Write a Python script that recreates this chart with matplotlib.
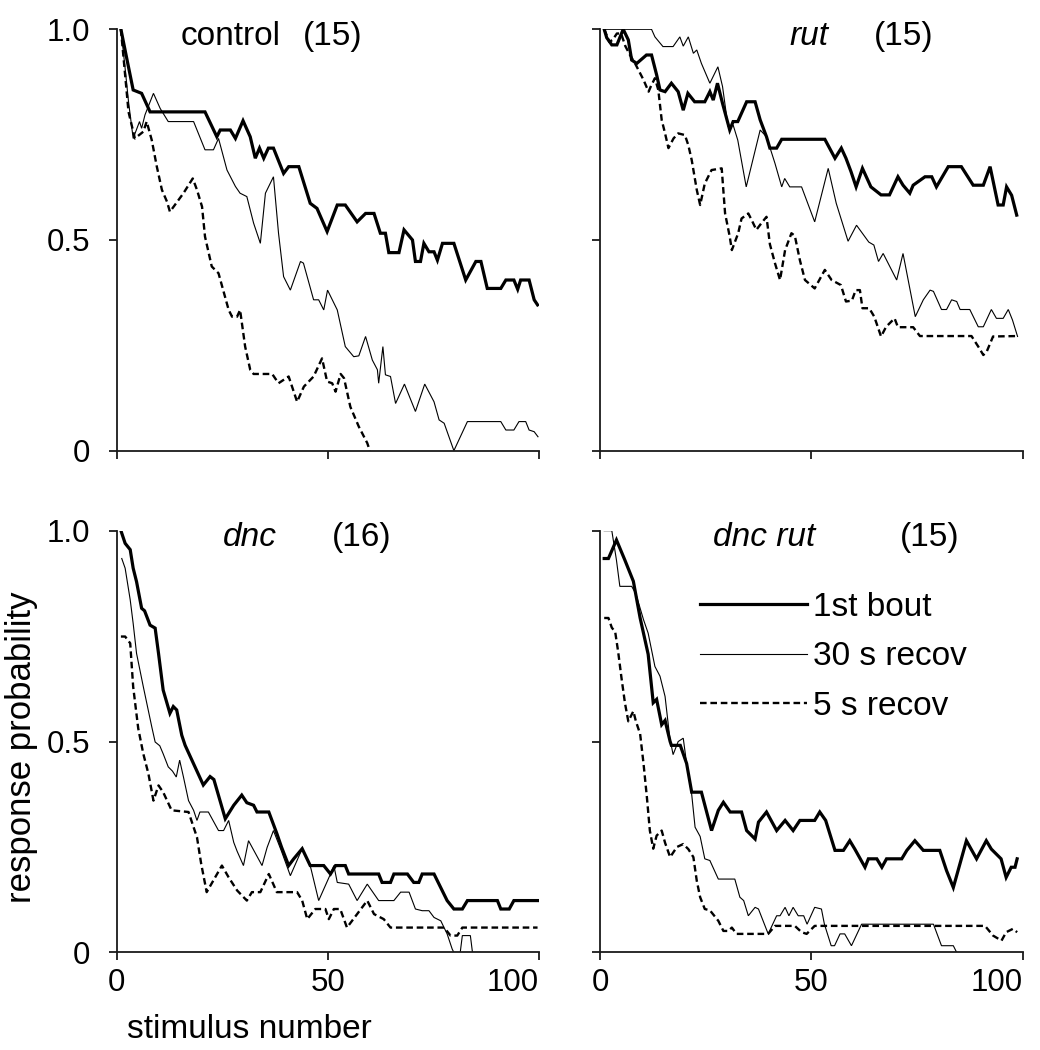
import matplotlib.pyplot as plt

plt.rcParams['font.family'] = ['Liberation Sans', 'DejaVu Sans']
plt.rcParams['font.size'] = 22

# ---- data (stimulus number, response probability) ----
# control (15)
ctrl_first_x = [1, 2.4, 3.9, 5.9, 7.9, 20.9, 23.7, 24.5, 26.9, 28.1, 29.9, 31.6, 32.8, 33.8, 34.8, 35.9,
                37.1, 39.5, 40.7, 43.1, 45.8, 47.4, 49.8, 52.2, 54.1, 56.9, 58.9, 60.9, 62.4, 63.6, 64.4,
                66.8, 68.0, 70.0, 70.7, 71.9, 72.7, 73.9, 75.1, 75.9, 77.1, 79.8, 82.6, 85.0, 86.2, 87.7,
                90.9, 92.1, 94.0, 94.9, 95.6, 97.6, 98.8, 99.6]
ctrl_first_y = [1.0, 0.93, 0.856, 0.848, 0.804, 0.804, 0.745, 0.761, 0.761, 0.741, 0.783, 0.745, 0.694,
                0.718, 0.694, 0.718, 0.718, 0.658, 0.674, 0.674, 0.587, 0.575, 0.520, 0.583, 0.583, 0.543,
                0.563, 0.563, 0.516, 0.516, 0.470, 0.470, 0.524, 0.500, 0.449, 0.449, 0.492, 0.472, 0.472,
                0.452, 0.492, 0.492, 0.405, 0.449, 0.449, 0.385, 0.385, 0.405, 0.405, 0.383, 0.405, 0.405,
                0.358, 0.346]
ctrl_30s_x = [1, 2.0, 2.8, 3.9, 5.4, 5.9, 6.7, 8.7, 10.3, 12.2, 18.2, 20.9, 22.9, 24.1, 26.1, 28.1, 29.2,
              30.8, 32.4, 34.0, 35.2, 37.1, 38.3, 39.5, 41.1, 43.5, 44.2, 46.6, 47.8, 49.0, 49.9, 52.2,
              54.1, 56.1, 57.3, 58.9, 60.5, 61.7, 62.0, 63.0, 63.6, 64.8, 66.0, 68.1, 70.7, 72.9, 75.1,
              76.3, 77.5, 79.8, 83.0, 90.9, 92.1, 94.0, 95.2, 96.8, 97.6, 98.8, 99.7]
ctrl_30s_y = [1.0, 0.907, 0.828, 0.741, 0.781, 0.765, 0.797, 0.848, 0.812, 0.781, 0.781, 0.714, 0.714,
              0.741, 0.666, 0.627, 0.611, 0.603, 0.540, 0.492, 0.611, 0.650, 0.516, 0.413, 0.381, 0.449,
              0.445, 0.358, 0.358, 0.334, 0.381, 0.334, 0.247, 0.223, 0.225, 0.271, 0.215, 0.192, 0.160,
              0.247, 0.180, 0.176, 0.112, 0.158, 0.093, 0.158, 0.116, 0.073, 0.065, 0.0, 0.069, 0.069,
              0.049, 0.049, 0.069, 0.069, 0.049, 0.045, 0.033]
ctrl_5s_x = [1, 2.8, 4.3, 6.3, 7.1, 8.3, 9.5, 10.7, 11.9, 12.6, 15.8, 18.0, 19.0, 20.2, 20.9, 22.5, 24.1,
             26.5, 27.3, 28.5, 29.2, 30.4, 31.6, 32.4, 36.8, 38.3, 40.7, 42.7, 44.3, 46.6, 48.6, 49.8,
             51.0, 51.8, 53.0, 53.8, 55.3, 57.3, 59.3, 59.9]
ctrl_5s_y = [1.0, 0.804, 0.741, 0.757, 0.781, 0.737, 0.674, 0.619, 0.591, 0.567, 0.611, 0.646, 0.619,
             0.579, 0.508, 0.437, 0.421, 0.334, 0.318, 0.318, 0.334, 0.247, 0.192, 0.182, 0.182, 0.160,
             0.176, 0.116, 0.152, 0.176, 0.219, 0.164, 0.160, 0.140, 0.182, 0.172, 0.104, 0.057, 0.018, 0.0]

# rut (15)
rut_first_x = [1, 1.6, 2.8, 4.0, 5.5, 6.7, 7.5, 8.7, 11.0, 12.2, 13.4, 14.2, 15.4, 16.9, 18.5, 19.7, 20.8,
               22.4, 24.8, 26.0, 26.8, 27.8, 29.0, 30.7, 31.5, 32.6, 34.7, 36.7, 37.9, 39.4, 40.2, 41.8,
               43.0, 53.2, 55.6, 57.1, 58.2, 59.4, 60.6, 62.1, 64.1, 66.5, 68.5, 70.5, 71.7, 73.3, 74.1,
               76.9, 78.5, 79.6, 82.4, 85.5, 88.3, 90.7, 92.3, 94.2, 95.4, 96.2, 97.4, 98.6]
rut_first_y = [1.0, 0.98, 0.963, 0.963, 1.0, 0.975, 0.927, 0.919, 0.939, 0.939, 0.892, 0.856, 0.852,
               0.872, 0.852, 0.808, 0.848, 0.828, 0.828, 0.852, 0.832, 0.872, 0.824, 0.761, 0.781, 0.781,
               0.828, 0.828, 0.785, 0.745, 0.718, 0.718, 0.739, 0.739, 0.694, 0.718, 0.694, 0.662, 0.626,
               0.670, 0.626, 0.607, 0.607, 0.650, 0.630, 0.611, 0.630, 0.650, 0.650, 0.626, 0.674, 0.674,
               0.630, 0.630, 0.674, 0.583, 0.583, 0.626, 0.606, 0.559]
rut_30s_x = [1, 12.2, 13.0, 14.9, 17.3, 18.9, 19.7, 20.9, 22.1, 22.9, 24.0, 26.0, 27.9, 29.0, 30.3, 31.5,
             32.6, 34.6, 37.9, 39.4, 41.4, 43.0, 43.7, 44.9, 47.7, 50.8, 54.0, 55.9, 58.7, 60.7, 63.6,
             64.8, 65.9, 67.0, 70.2, 71.7, 74.6, 76.5, 78.1, 78.9, 80.8, 82.0, 83.2, 84.4, 85.2, 87.5,
             89.5, 90.7, 92.6, 93.8, 95.4, 96.6, 97.6, 98.8]
rut_30s_y = [1.0, 1.0, 0.982, 0.959, 0.959, 0.982, 0.96, 0.982, 0.943, 0.951, 0.919, 0.872, 0.911, 0.864,
             0.769, 0.773, 0.737, 0.626, 0.761, 0.745, 0.682, 0.626, 0.646, 0.626, 0.626, 0.543, 0.670,
             0.587, 0.497, 0.535, 0.495, 0.488, 0.449, 0.468, 0.405, 0.468, 0.318, 0.358, 0.381, 0.378,
             0.335, 0.335, 0.358, 0.354, 0.335, 0.335, 0.294, 0.294, 0.335, 0.314, 0.314, 0.335, 0.31,
             0.271]
rut_5s_x = [1, 2.2, 3.0, 4.0, 5.0, 6.0, 7.1, 8.3, 10.3, 11.5, 12.1, 13.0, 13.8, 14.6, 15.4, 16.2, 17.4,
            18.5, 20.1, 20.9, 21.7, 22.9, 23.7, 24.8, 26.4, 28.8, 29.6, 30.7, 31.2, 32.7, 33.5, 35.1,
            36.0, 37.0, 38.2, 39.4, 40.2, 41.4, 42.6, 43.8, 45.3, 46.1, 47.3, 48.5, 50.8, 53.2, 54.8,
            57.0, 58.2, 59.6, 60.5, 61.5, 62.1, 63.7, 64.9, 66.5, 67.7, 69.7, 70.5, 74.1, 75.7, 87.9,
            89.5, 90.7, 91.5, 93.0, 98.8]
rut_5s_y = [1.0, 0.97, 0.975, 0.99, 0.99, 0.96, 0.939, 0.919, 0.880, 0.852, 0.866, 0.884, 0.856, 0.785,
            0.753, 0.718, 0.741, 0.753, 0.749, 0.725, 0.690, 0.619, 0.583, 0.634, 0.666, 0.670, 0.563,
            0.508, 0.476, 0.516, 0.551, 0.563, 0.545, 0.524, 0.54, 0.555, 0.490, 0.445, 0.405, 0.476,
            0.516, 0.51, 0.452, 0.405, 0.385, 0.429, 0.405, 0.393, 0.354, 0.356, 0.381, 0.381, 0.338,
            0.338, 0.318, 0.271, 0.294, 0.314, 0.293, 0.293, 0.272, 0.272, 0.247, 0.227, 0.235, 0.271,
            0.272]

# dnc (16)
dnc_first_x = [1, 2.0, 3.2, 3.9, 4.7, 5.9, 6.6, 7.9, 9.1, 9.9, 11.0, 12.6, 13.4, 14.2, 15.4, 16.2, 20.5,
               22.1, 23.0, 25.7, 27.7, 29.6, 30.8, 32.4, 33.2, 36.0, 37.9, 39.0, 40.7, 41.9, 43.9, 45.8,
               49.0, 50.6, 51.8, 54.1, 54.9, 62.0, 62.8, 64.8, 65.6, 68.8, 70.3, 71.5, 72.3, 75.1, 78.2,
               79.8, 81.8, 83.0, 90.1, 90.9, 92.9, 94.0, 99.6]
dnc_first_y = [1.0, 0.970, 0.955, 0.911, 0.879, 0.816, 0.81, 0.776, 0.769, 0.709, 0.622, 0.567, 0.583,
               0.575, 0.515, 0.491, 0.397, 0.417, 0.41, 0.317, 0.349, 0.373, 0.355, 0.349, 0.333, 0.333,
               0.282, 0.25, 0.206, 0.222, 0.246, 0.206, 0.206, 0.186, 0.206, 0.206, 0.186, 0.186, 0.166,
               0.166, 0.186, 0.186, 0.166, 0.166, 0.186, 0.186, 0.123, 0.103, 0.103, 0.123, 0.123, 0.103,
               0.103, 0.123, 0.123]
dnc_30s_x = [1.2, 2.0, 3.2, 3.9, 4.7, 6.3, 8.3, 9.1, 10.2, 11.0, 12.2, 13.2, 14.1, 14.9, 15.8, 17.0, 18.2,
             19.0, 19.7, 21.7, 24.1, 25.3, 26.5, 27.7, 28.5, 30.0, 31.2, 34.4, 35.6, 37.1, 39.0, 41.1,
             43.9, 45.8, 47.8, 50.6, 51.4, 52.2, 54.9, 56.9, 59.3, 62.0, 65.6, 67.2, 69.2, 70.7, 72.3,
             73.9, 75.1, 76.7, 78.2, 79.4, 79.8, 81.3, 81.8, 83.7, 84.2, 86.0]
dnc_30s_y = [0.934, 0.911, 0.836, 0.780, 0.709, 0.630, 0.535, 0.499, 0.49, 0.471, 0.440, 0.43, 0.416,
             0.456, 0.416, 0.360, 0.337, 0.313, 0.333, 0.333, 0.289, 0.289, 0.313, 0.261, 0.24, 0.206,
             0.265, 0.206, 0.249, 0.289, 0.24, 0.182, 0.246, 0.206, 0.123, 0.186, 0.206, 0.166, 0.162,
             0.123, 0.162, 0.123, 0.123, 0.143, 0.143, 0.103, 0.099, 0.099, 0.083, 0.075, 0.044, 0.008,
             0.0, 0.0, 0.04, 0.04, 0.0, 0.0]
dnc_5s_x = [1, 2.0, 3.2, 3.9, 5.1, 6.3, 7.5, 8.7, 9.9, 11.0, 13.0, 17.0, 19.0, 20.0, 21.3, 23.3, 24.9,
            26.5, 28.5, 30.8, 32.0, 34.0, 36.0, 37.9, 42.7, 43.9, 45.1, 47.0, 49.4, 50.2, 51.4, 52.9,
            54.5, 56.0, 59.3, 60.9, 63.2, 64.8, 77.5, 79.0, 80.6, 81.8, 99.6]
dnc_5s_y = [0.749, 0.749, 0.733, 0.630, 0.531, 0.471, 0.424, 0.360, 0.396, 0.38, 0.337, 0.333, 0.273,
            0.21, 0.143, 0.178, 0.206, 0.178, 0.147, 0.123, 0.143, 0.143, 0.186, 0.143, 0.143, 0.123,
            0.079, 0.103, 0.103, 0.079, 0.103, 0.103, 0.059, 0.079, 0.123, 0.091, 0.079, 0.059, 0.059,
            0.040, 0.040, 0.059, 0.059]

# dnc rut (15)
dncrut_first_x = [1, 2.0, 3.9, 5.9, 7.9, 9.5, 11.4, 12.6, 13.4, 14.6, 15.4, 16.6, 16.9, 19.0, 20.5, 21.7,
                  24.0, 26.4, 28.0, 29.2, 30.8, 33.5, 34.7, 36.7, 37.5, 39.4, 41.8, 43.8, 45.7, 47.3,
                  50.8, 52.0, 53.4, 55.6, 57.6, 59.1, 60.3, 62.7, 63.5, 65.5, 66.7, 67.8, 71.4, 72.6,
                  74.5, 76.5, 80.4, 82.0, 83.6, 85.5, 86.7, 89.1, 91.4, 92.6, 94.9, 96.1, 97.3, 98.2, 98.7]
dncrut_first_y = [0.934, 0.934, 0.978, 0.93, 0.88, 0.793, 0.707, 0.592, 0.60, 0.54, 0.55, 0.50, 0.491,
                  0.491, 0.448, 0.380, 0.380, 0.289, 0.337, 0.356, 0.333, 0.333, 0.289, 0.269, 0.309,
                  0.333, 0.289, 0.313, 0.289, 0.313, 0.313, 0.333, 0.313, 0.242, 0.242, 0.265, 0.245,
                  0.202, 0.222, 0.222, 0.202, 0.222, 0.222, 0.242, 0.265, 0.242, 0.242, 0.194, 0.154,
                  0.222, 0.265, 0.222, 0.265, 0.245, 0.222, 0.178, 0.202, 0.202, 0.222]
dncrut_30s_x = [1, 2.8, 3.9, 4.7, 7.5, 8.5, 10.3, 11.4, 13.0, 14.2, 15.4, 16.5, 17.3, 18.5, 19.7, 20.5,
                21.7, 22.5, 23.7, 24.8, 26.0, 28.0, 31.9, 33.1, 34.0, 35.1, 36.7, 37.5, 39.8, 41.8, 42.6,
                43.8, 44.7, 45.7, 46.9, 48.2, 49.0, 50.8, 52.4, 53.1, 54.7, 55.5, 56.8, 57.9, 59.5, 61.9,
                78.9, 80.8, 83.6, 84.4]
dncrut_30s_y = [1.0, 1.0, 0.93, 0.868, 0.868, 0.85, 0.789, 0.757, 0.678, 0.655, 0.607, 0.51, 0.469, 0.50,
                0.508, 0.448, 0.375, 0.297, 0.275, 0.222, 0.218, 0.174, 0.174, 0.131, 0.123, 0.087, 0.107,
                0.103, 0.044, 0.087, 0.087, 0.107, 0.087, 0.107, 0.087, 0.087, 0.067, 0.107, 0.103, 0.067,
                0.016, 0.016, 0.044, 0.044, 0.016, 0.067, 0.067, 0.016, 0.016, 0.0]
dncrut_5s_x = [1, 2.0, 2.8, 3.6, 4.3, 5.1, 5.9, 6.7, 7.9, 8.5, 9.5, 10.3, 11.1, 11.8, 12.6, 13.4, 14.6,
               15.4, 16.6, 18.2, 19.7, 20.9, 22.1, 22.9, 23.7, 24.8, 26.0, 28.0, 29.2, 30.4, 31.2, 32.3,
               39.8, 41.4, 46.1, 47.7, 48.9, 50.8, 91.1, 93.0, 95.0, 96.1, 97.7, 98.7]
dncrut_5s_y = [0.793, 0.793, 0.77, 0.76, 0.713, 0.650, 0.592, 0.548, 0.572, 0.548, 0.518, 0.448, 0.368,
               0.289, 0.246, 0.277, 0.289, 0.26, 0.226, 0.25, 0.257, 0.245, 0.226, 0.170, 0.131, 0.103,
               0.10, 0.075, 0.051, 0.051, 0.059, 0.044, 0.044, 0.063, 0.063, 0.048, 0.044, 0.063, 0.063,
               0.040, 0.028, 0.048, 0.056, 0.048]

panel_names = ['control', 'rut', 'dnc', 'dnc rut']
panel_counts = ['(15)', '(15)', '(16)', '(15)']
series_labels = ['1st bout', '30 s recov', '5 s recov']

panels = [
    [(ctrl_first_x, ctrl_first_y), (ctrl_30s_x, ctrl_30s_y), (ctrl_5s_x, ctrl_5s_y)],
    [(rut_first_x, rut_first_y), (rut_30s_x, rut_30s_y), (rut_5s_x, rut_5s_y)],
    [(dnc_first_x, dnc_first_y), (dnc_30s_x, dnc_30s_y), (dnc_5s_x, dnc_5s_y)],
    [(dncrut_first_x, dncrut_first_y), (dncrut_30s_x, dncrut_30s_y), (dncrut_5s_x, dncrut_5s_y)],
]

# line styles for the three series
styles = [dict(lw=2.3, ls='-'),
          dict(lw=0.8, ls='-'),
          dict(lw=1.7, ls=(0, (2.8, 1.6)))]

# axes rectangles [left, bottom, width, height]
rects = [[0.1122, 0.5708, 0.4063, 0.4013],
         [0.5769, 0.5708, 0.4064, 0.4013],
         [0.1122, 0.0929, 0.4063, 0.4017],
         [0.5769, 0.0929, 0.4064, 0.4017]]
# x (axes fraction) of the panel name and of the count
name_pos = [(0.152, 0.440), (0.449, 0.649), (0.252, 0.509), (0.268, 0.710)]

TITLE_FS = 24
TICK_FS = 22.5

fig = plt.figure(figsize=(10.4, 10.5), dpi=100)

for i, rect in enumerate(rects):
    ax = fig.add_axes(rect)
    for (xs, ys), st, lab in zip(panels[i], styles, series_labels):
        ax.plot(xs, ys, color='black', label=lab, solid_joinstyle='miter', **st)
    ax.set_xlim(0, 100)
    ax.set_ylim(0, 1)
    ax.spines['top'].set_visible(False)
    ax.spines['right'].set_visible(False)
    for s in ['left', 'bottom']:
        ax.spines[s].set_linewidth(1.3)
        ax.spines[s].set_color('#1a1a1a')
    ax.set_xticks([0, 50, 100])
    ax.set_yticks([0, 0.5, 1.0])
    ax.set_xticklabels(['0', '50', '100'])
    ax.set_yticklabels(['0', '0.5', '1.0'])
    ax.tick_params(axis='both', direction='out', length=6, width=1.3, color='#1a1a1a',
                   labelsize=TICK_FS)
    ax.tick_params(axis='x', pad=5)
    ax.tick_params(axis='y', pad=13)
    if i < 2:
        ax.tick_params(axis='x', labelbottom=False)
    else:
        ax.get_xticklabels()[-1].set_ha('right')
    if i % 2 == 1:
        ax.tick_params(axis='y', labelleft=False)

    nx, cx = name_pos[i]
    ax.text(nx, 0.963, panel_names[i], transform=ax.transAxes, fontsize=TITLE_FS, va='baseline',
            ha='left', style='normal' if i == 0 else 'italic')
    ax.text(cx, 0.963, panel_counts[i], transform=ax.transAxes, fontsize=TITLE_FS, va='baseline',
            ha='left')

    if i == 3:
        ax.legend(loc='center left', bbox_to_anchor=(0.2366, 0.7007), frameon=False,
                  borderpad=0, borderaxespad=0, handlelength=3.2, handletextpad=0.2,
                  labelspacing=0.55, fontsize=TITLE_FS)

fig.text(0.021, 0.288, 'response probability', rotation=90, ha='center', va='center', fontsize=25)
fig.text(126.7 / 1040, 0.0111, 'stimulus number', ha='left', va='baseline', fontsize=TITLE_FS)

fig.savefig('out.png', dpi=100, facecolor='white')
